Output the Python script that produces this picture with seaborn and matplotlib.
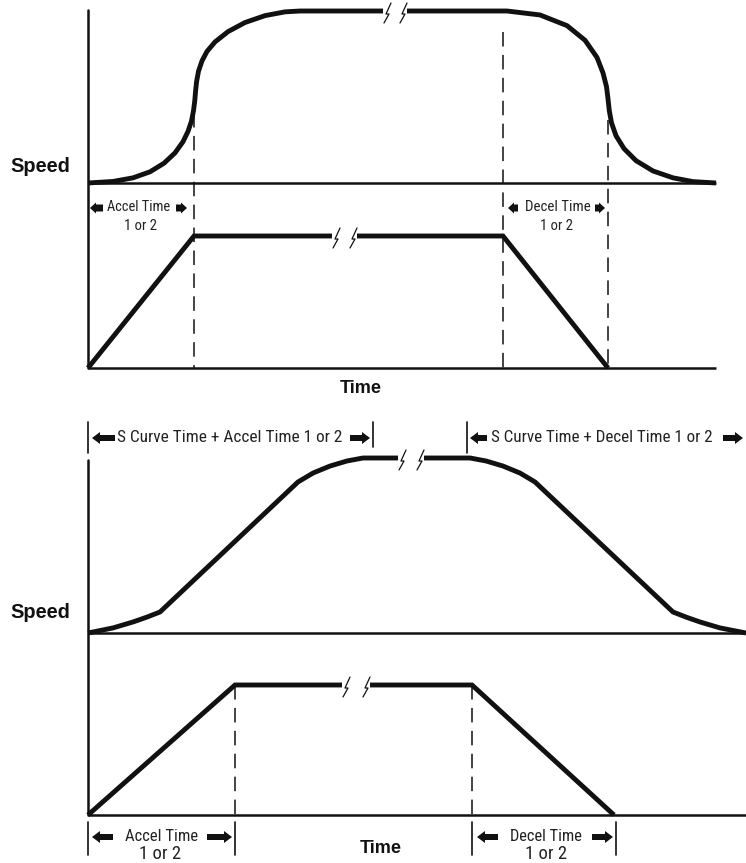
import matplotlib
matplotlib.use("Agg")
import matplotlib.pyplot as plt
import matplotlib.font_manager as fm
from matplotlib.font_manager import FontProperties
from matplotlib.transforms import Affine2D, IdentityTransform, blended_transform_factory
from matplotlib.lines import Line2D
from matplotlib.patches import Polygon
import seaborn as sns
import pandas as pd

# ---------------- data (time units, speed in % of max) ----------------
# Top diagram: S-curve speed profile
top_acc_t = [0, 25, 45, 62, 76, 87, 95, 100, 103.5, 105.5, 106.8, 107.6, 108.6, 110.5, 114, 119, 127, 140, 157, 177, 197, 212]
top_acc_s = [0, 0.9, 3.0, 6.5, 11.5, 17.5, 24.0, 30.0, 36.0, 42.0, 48.0, 53.5, 59.0, 65.0, 71.0, 76.5, 82.0, 88.0, 93.3, 97.3, 99.5, 100]
top_dec_t = [419, 452, 479, 497, 509, 515, 518.5, 520, 521.3, 523.5, 528, 536, 548, 565, 585, 605, 628]
top_dec_s = [100, 97.7, 91.5, 83.0, 73.0, 64.0, 56.0, 49.0, 42.0, 35.0, 27.5, 20.0, 13.0, 7.0, 3.0, 0.8, 0]
top_break = [295, 319]
# Top diagram: linear ramp
top_ramp_t = [0, 106, 415, 520]
top_ramp_s = [0, 100, 100, 0]
top_ramp_break = [244, 269]
top_marks = [106, 415, 520]

# Bottom diagram: S-curve with linear section
bot_acc_t = [0, 25, 45, 59, 72, 210, 225, 242, 259, 275]
bot_acc_s = [0, 2.9, 6.3, 9.1, 12.0, 86.3, 91.4, 95.4, 98.3, 100]
bot_dec_t = [382, 398, 415, 432, 447, 585, 598, 612, 632, 658]
bot_dec_s = [100, 98.3, 95.4, 91.4, 86.3, 12.0, 9.1, 6.3, 2.9, 0]
bot_break = [310, 336]
bot_ramp_t = [0, 147, 384, 526]
bot_ramp_s = [0, 100, 100, 0]
bot_ramp_break = [254, 282]
bot_scurve_marks = [0, 285, 379]
bot_ramp_marks = [0, 147, 384, 528]

# ---------------- fonts ----------------
W, H = 746, 863
sns.set_theme(style="white")

def find_narrow():
    prefs = ["liberation sans narrow", "arial narrow", "roboto condensed", "dejavu sans condensed",
             "noto sans condensed", "open sans condensed", "pt sans narrow"]
    best, best_score = None, 1e9
    for f in fm.fontManager.ttflist:
        nm, fn = f.name.lower(), f.fname.lower()
        stretch = f.stretch
        narrowish = ("narrow" in nm or "condensed" in nm or "narrow" in fn or "condensed" in fn
                     or stretch in ("condensed", "semi-condensed", "extra-condensed", "ultra-condensed"))
        if not narrowish:
            continue
        base = fn.rsplit("/", 1)[-1]
        if any(k in base for k in ("bold", "italic", "oblique", "light", "thin", "black", "semi", "medium", "extra")):
            continue
        if "semicondensed" in base or "semi" in nm:
            continue
        score = 50
        for i, p in enumerate(prefs):
            if p in nm or p.replace(" ", "") in base:
                score = i
                break
        if score < best_score:
            best, best_score = f.fname, score
    return best

avail = {f.name for f in fm.fontManager.ttflist}
narrow_file = find_narrow()
plain_fam = "Liberation Sans" if "Liberation Sans" in avail else "DejaVu Sans"
bold_fam = plain_fam

def narrow_fp(size):
    if narrow_file:
        return FontProperties(fname=narrow_file, size=size)
    return FontProperties(family=[plain_fam, "DejaVu Sans"], size=size)

# ---------------- figure ----------------
fig = plt.figure(figsize=(W / 100, H / 100), dpi=100)
fig.patch.set_facecolor("white")
renderer = fig.canvas.get_renderer()
pxT = Affine2D().scale(1, -1).translate(0, H)  # pixel coords, y from top

def rect(x0, yt, x1, yb):
    return [x0 / W, 1 - yb / H, (x1 - x0) / W, (yb - yt) / H]

TMAX = 658
ax_ts = fig.add_axes(rect(88, 11, 746, 183))
ax_tr = fig.add_axes(rect(88, 236, 746, 368))
ax_bs = fig.add_axes(rect(88, 458, 746, 633))
ax_br = fig.add_axes(rect(88, 685, 746, 815))
for a in (ax_ts, ax_tr, ax_bs, ax_br):
    a.set_xlim(0, TMAX)
    a.set_ylim(0, 100)
    a.axis("off")
    a.patch.set_alpha(0)

THICK = 3.5
THIN = 1.8
INK = "#111111"

def curve(ax, t, s, join="round"):
    df = pd.DataFrame({"t": t, "s": s})
    sns.lineplot(data=df, x="t", y="s", ax=ax, sort=False, estimator=None,
                 color=INK, linewidth=THICK)
    ln = ax.lines[-1]
    ln.set_clip_on(False)
    ln.set_solid_joinstyle(join)
    ln.set_solid_capstyle("butt")

def baseline(ax, t_end):
    ax.plot([0, t_end], [0, 0], color=INK, lw=THIN, clip_on=False, solid_capstyle="butt")

def zig_break(ax, t0, t1, s):
    x0, yd = ax.transData.transform((t0, s))
    x1, _ = ax.transData.transform((t1, s))
    z1 = [(x0 + 8, yd + 8), (x0 + 3, yd - 3), (x0 + 6, yd - 3), (x0 + 1, yd - 12)]
    z2 = [(x1, yd + 8), (x1 - 5, yd - 3), (x1 - 2, yd - 3), (x1 - 7, yd - 12)]
    for z in (z1, z2):
        fig.add_artist(Line2D([p[0] for p in z], [p[1] for p in z], color=INK, lw=0.9,
                              transform=IdentityTransform()))

def split_plateau(acc_t, acc_s, dec_t, dec_s, brk):
    seg1_t = list(acc_t) + [brk[0]]
    seg1_s = list(acc_s) + [100]
    seg2_t = [brk[1]] + list(dec_t)
    seg2_s = [100] + list(dec_s)
    return (seg1_t, seg1_s), (seg2_t, seg2_s)

def vdash(ax, t, y0, y1):
    tr = blended_transform_factory(ax.transData, pxT)
    fig.add_artist(Line2D([t, t], [y0, y1], color=INK, lw=1.1, transform=tr,
                          linestyle=(0, (9.5, 5.5))))

def vbar(ax, t, y0, y1, lw=1.2):
    tr = blended_transform_factory(ax.transData, pxT)
    fig.add_artist(Line2D([t, t], [y0, y1], color=INK, lw=lw, transform=tr))

def block_arrow(tip, y, d, length, hl, hh, bh):
    pts = [(tip, y), (tip - d * hl, y - hh), (tip - d * hl, y - bh), (tip - d * length, y - bh),
           (tip - d * length, y + bh), (tip - d * hl, y + bh), (tip - d * hl, y + hh)]
    fig.add_artist(Polygon(pts, closed=True, facecolor=INK, edgecolor="none", transform=pxT))

def label(x, y, s, size, width, bold=False, max_size=None):
    """Place text centred at pixel (x, y); scale the font so the text is `width` px wide."""
    if bold:
        fp = FontProperties(family=[bold_fam, "DejaVu Sans"], weight="bold", size=size)
        color = INK
    else:
        fp = narrow_fp(size)
        color = "#222222"
    t = fig.text(x, y, s, transform=pxT, ha="center", va="center", fontproperties=fp, color=color)
    w = t.get_window_extent(renderer).width
    new = size * width / w
    if max_size:
        new = min(new, max_size)
    t.set_fontsize(new)
    return t

# ---------------- top diagram ----------------
(a1, a2) = split_plateau(top_acc_t, top_acc_s, top_dec_t, top_dec_s, top_break)
curve(ax_ts, *a1)
curve(ax_ts, *a2)
baseline(ax_ts, 628)
zig_break(ax_ts, top_break[0], top_break[1], 100)

r1 = (top_ramp_t[:2] + [top_ramp_break[0]], top_ramp_s[:2] + [100])
r2 = ([top_ramp_break[1]] + top_ramp_t[2:], [100] + top_ramp_s[2:])
curve(ax_tr, *r1, join="miter")
curve(ax_tr, *r2, join="miter")
baseline(ax_tr, 628)
zig_break(ax_tr, top_ramp_break[0], top_ramp_break[1], 100)

vbar(ax_ts, 0, 10, 368, lw=1.8)
vdash(ax_tr, top_marks[0], 113, 368)
vdash(ax_tr, top_marks[1], 32, 368)
vdash(ax_tr, top_marks[2], 120, 368)

label(40, 166, "Speed", 13, 60, bold=True)
label(361, 388, "Time", 13, 42, bold=True)
block_arrow(90, 208, -1, 13, 6, 5.5, 3.5)
label(138.5, 207, "Accel Time", 11, 63)
block_arrow(187, 208, 1, 11, 6, 5.5, 3.5)
label(140, 226, "1 or 2", 11, 33)
block_arrow(508, 208, -1, 10, 6, 5.5, 3.5)
label(557.5, 207, "Decel Time", 11, 65)
block_arrow(605, 208, 1, 10, 6, 5.5, 3.5)
label(557, 226, "1 or 2", 11, 33)

# ---------------- bottom diagram ----------------
(b1, b2) = split_plateau(bot_acc_t, bot_acc_s, bot_dec_t, bot_dec_s, bot_break)
curve(ax_bs, *b1)
curve(ax_bs, *b2)
baseline(ax_bs, TMAX)
zig_break(ax_bs, bot_break[0], bot_break[1], 100)

q1 = (bot_ramp_t[:2] + [bot_ramp_break[0]], bot_ramp_s[:2] + [100])
q2 = ([bot_ramp_break[1]] + bot_ramp_t[2:], [100] + bot_ramp_s[2:])
curve(ax_br, *q1, join="miter")
curve(ax_br, *q2, join="miter")
baseline(ax_br, TMAX)
zig_break(ax_br, bot_ramp_break[0], bot_ramp_break[1], 100)

vbar(ax_bs, 0, 460, 815, lw=1.8)
vdash(ax_br, bot_ramp_marks[1], 685, 815)
vdash(ax_br, bot_ramp_marks[2], 685, 815)

# S-curve brackets
vbar(ax_bs, bot_scurve_marks[0], 422, 453)
vbar(ax_bs, bot_scurve_marks[1], 422, 447)
vbar(ax_bs, bot_scurve_marks[2], 422, 453)
block_arrow(92, 438, -1, 23, 8, 6, 3)
label(230, 437, "S Curve Time + Accel Time 1 or 2", 13, 224)
block_arrow(370, 438, 1, 20, 8, 6, 3)
block_arrow(470, 438, -1, 17, 8, 6, 3)
label(601.5, 437, "S Curve Time + Decel Time 1 or 2", 13, 222)
block_arrow(743, 438, 1, 20, 8, 6, 3)

# ramp brackets
for t in bot_ramp_marks:
    vbar(ax_br, t, 822, 855)
block_arrow(92, 837, -1, 21, 8, 6, 3)
label(161.5, 836, "Accel Time", 13, 73)
block_arrow(232, 837, 1, 25, 8, 6, 3)
label(160, 854, "1 or 2", 13, 42)
block_arrow(477, 837, -1, 21, 8, 6, 3)
label(546, 836, "Decel Time", 13, 72)
block_arrow(613, 837, 1, 21, 8, 6, 3)
label(546, 854, "1 or 2", 13, 42)

label(40, 612, "Speed", 13, 60, bold=True)
label(381, 848, "Time", 13, 42, bold=True)

fig.savefig("out.png", dpi=100, facecolor="white")
